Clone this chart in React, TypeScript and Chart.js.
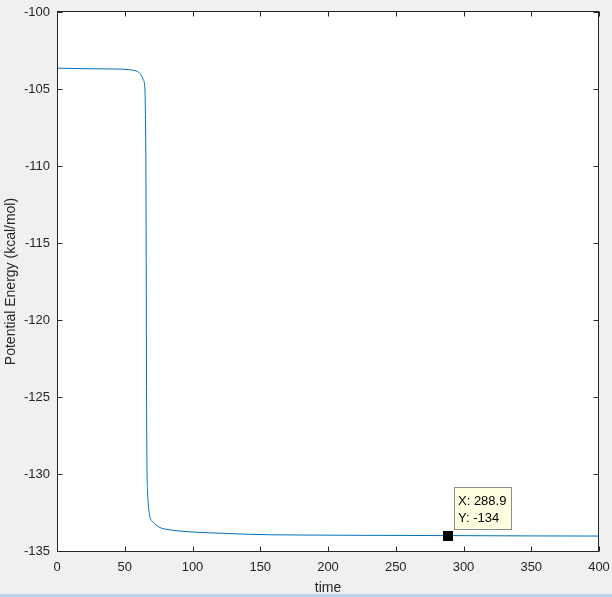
import React, { useEffect, useRef } from "react";
import { Chart, registerables } from "chart.js";

Chart.register(...registerables);

// Data
const time = [
  0, 20, 40, 50, 56, 59, 61.3, 63.7, 64.9, 65.3, 65.6, 65.9, 66.1, 66.4, 66.8,
  67.3, 68, 69, 70.5, 73, 76, 83, 90, 105, 125, 142, 175, 220, 288.9, 350, 400,
];
const energy = [
  -103.65, -103.68, -103.7, -103.72, -103.78, -103.85, -104.0, -104.4, -105.05,
  -107.0, -110, -118, -125, -129.5, -131.0, -131.9, -132.5, -132.9, -133.1,
  -133.3, -133.48, -133.62, -133.7, -133.79, -133.86, -133.92, -133.96, -133.98,
  -134.0, -134.02, -134.03,
];
const xTicks = [0, 50, 100, 150, 200, 250, 300, 350, 400];
const yTicks = [-100, -105, -110, -115, -120, -125, -130, -135];
const tipX = 288.9;
const tipY = -134;
const xTitle = "time";
const yTitle = "Potential Energy (kcal/mol)";

const FONT = "'Liberation Sans', Arial, Helvetica, sans-serif";
const AXIS = "#262626";

export default function App() {
  const ref = useRef<HTMLCanvasElement>(null);

  useEffect(() => {
    const points = time.map((t, i) => ({ x: t, y: energy[i] }));

    const framePlugin = {
      id: "matlabFrame",
      beforeDraw(chart: any) {
        const { ctx, chartArea: a } = chart;
        ctx.save();
        ctx.fillStyle = "#ffffff";
        ctx.fillRect(a.left, a.top, a.right - a.left, a.bottom - a.top);
        ctx.restore();
      },
      afterDraw(chart: any) {
        const { ctx, chartArea: a, scales } = chart;
        const xs = scales.x;
        const ys = scales.y;
        const L = Math.round(a.left) + 0.5;
        const R = Math.round(a.right) - 0.5;
        const T = Math.round(a.top) - 0.5;
        const B = Math.round(a.bottom) + 0.5;
        ctx.save();
        ctx.strokeStyle = AXIS;
        ctx.lineWidth = 1;
        ctx.strokeRect(L, T, R - L, B - T);
        const tl = 5;
        ctx.beginPath();
        xTicks.forEach((v) => {
          const px = Math.round(xs.getPixelForValue(v)) + 0.5;
          ctx.moveTo(px, B);
          ctx.lineTo(px, B - tl);
          ctx.moveTo(px, T);
          ctx.lineTo(px, T + tl);
        });
        yTicks.forEach((v) => {
          const py = Math.round(ys.getPixelForValue(v)) + 0.5;
          ctx.moveTo(L, py);
          ctx.lineTo(L + tl, py);
          ctx.moveTo(R, py);
          ctx.lineTo(R - tl, py);
        });
        ctx.stroke();

        // data tip
        const mx = xs.getPixelForValue(tipX);
        const my = ys.getPixelForValue(tipY);
        ctx.fillStyle = "#000000";
        ctx.fillRect(Math.round(mx) - 5, Math.round(my) - 5, 10, 10);
        const bx = Math.round(mx) + 6.5;
        const by = Math.round(my) - 48.5;
        const bw = 57;
        const bh = 42;
        ctx.fillStyle = "#ffffe1";
        ctx.fillRect(bx, by, bw, bh);
        ctx.strokeStyle = "#8c8c8c";
        ctx.strokeRect(bx, by, bw, bh);
        ctx.fillStyle = "#000000";
        ctx.font = `13px ${FONT}`;
        ctx.textBaseline = "middle";
        ctx.textAlign = "left";
        ctx.fillText(`X: ${tipX}`, bx + 3.5, by + 14);
        ctx.fillText(`Y: ${tipY}`, bx + 3.5, by + 31);
        ctx.restore();
      },
    };

    const chart = new Chart(ref.current as HTMLCanvasElement, {
      type: "line",
      data: {
        datasets: [
          {
            data: points,
            borderColor: "#0072BD",
            borderWidth: 1,
            pointRadius: 0,
            fill: false,
            cubicInterpolationMode: "monotone",
          } as any,
        ],
      },
      options: {
        animation: false,
        responsive: false,
        devicePixelRatio: 1,
        events: [],
        layout: { padding: { top: 12, right: 13, left: 0, bottom: 0 } },
        plugins: { legend: { display: false }, tooltip: { enabled: false } },
        scales: {
          x: {
            type: "linear",
            min: 0,
            max: 400,
            afterBuildTicks: (s: any) => {
              s.ticks = xTicks.map((v) => ({ value: v }));
            },
            afterFit: (s: any) => {
              s.height = 46;
              s.paddingLeft = 0;
              s.paddingRight = 0;
            },
            grid: { display: false, drawTicks: false },
            border: { display: false },
            ticks: {
              padding: 9,
              color: AXIS,
              font: { family: FONT, size: 13 },
              maxRotation: 0,
              autoSkip: false,
              callback: (v: any) => String(v),
            },
            title: {
              display: true,
              text: xTitle,
              color: AXIS,
              font: { family: FONT, size: 14 },
              padding: { top: 0, bottom: 0 },
            },
          },
          y: {
            type: "linear",
            min: -135,
            max: -100,
            afterBuildTicks: (s: any) => {
              s.ticks = yTicks.map((v) => ({ value: v }));
            },
            afterFit: (s: any) => {
              s.width = 57;
              s.paddingTop = 0;
              s.paddingBottom = 0;
            },
            grid: { display: false, drawTicks: false },
            border: { display: false },
            ticks: {
              padding: 7,
              color: AXIS,
              font: { family: FONT, size: 13 },
              autoSkip: false,
              callback: (v: any) => String(v),
            },
            title: {
              display: true,
              text: yTitle,
              color: AXIS,
              font: { family: FONT, size: 14 },
              padding: { top: 3, bottom: 0 },
            },
          },
        },
      },
      plugins: [framePlugin],
    });
    return () => chart.destroy();
  }, []);

  return (
    <div
      style={{
        position: "fixed",
        left: 0,
        top: 0,
        width: 612,
        height: 597,
        background: "#f0f0f0",
        overflow: "hidden",
      }}
    >
      <canvas ref={ref} width={612} height={597} style={{ display: "block" }} />
      <div
        style={{
          position: "absolute",
          left: 0,
          top: 594,
          width: 612,
          height: 3,
          background: "#bcd5ee",
        }}
      />
    </div>
  );
}
